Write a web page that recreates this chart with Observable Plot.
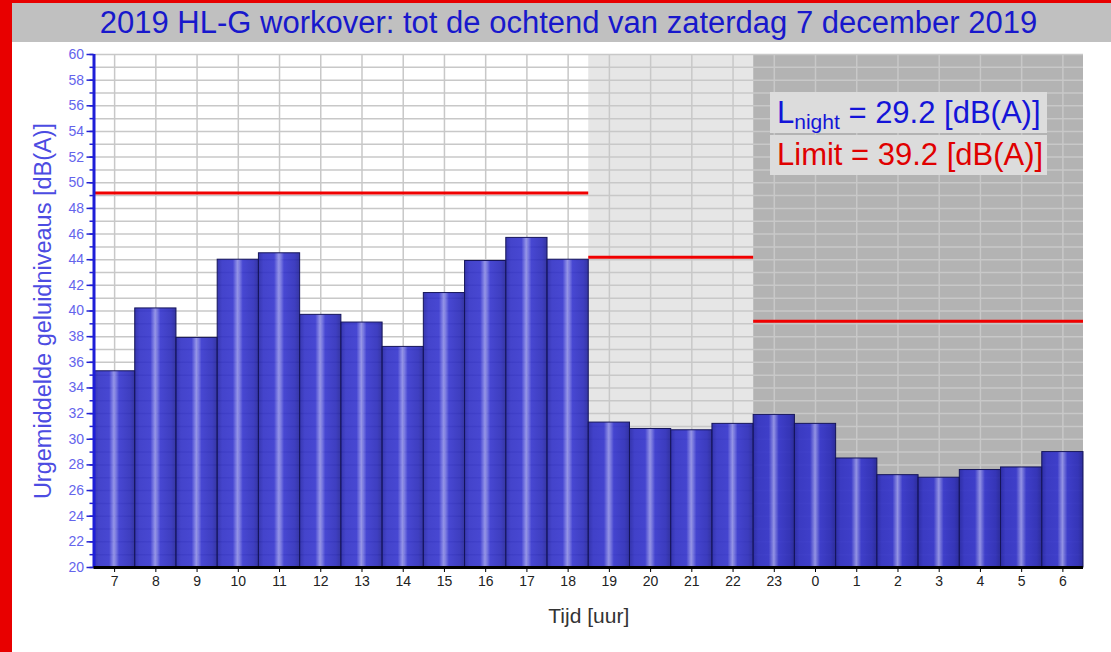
<!DOCTYPE html>
<html>
<head>
<meta charset="utf-8">
<script src="https://cdn.jsdelivr.net/npm/d3@7"></script>
<script src="https://cdn.jsdelivr.net/npm/@observablehq/plot@0.6"></script>
<style>
  html, body { margin: 0; padding: 0; background: #fff; }
  #wrap { position: relative; width: 1111px; height: 652px; overflow: hidden; font-family: "Liberation Sans", Arial, sans-serif; }
  #chart { position: absolute; left: 0; top: 0; }
  .redL { position: absolute; left: 0; top: 0; width: 12px; height: 652px; background: #e80000; z-index: 3; }
  .redT { position: absolute; left: 0; top: 0; width: 1111px; height: 3px; background: #e80000; z-index: 3; }
  #title { position: absolute; left: 12px; top: 3px; width: 1099px; height: 39px; background: #c0c0c0; color: #1818cc;
           font-size: 31px; line-height: 39px; text-align: center; z-index: 2; text-indent: 14px; white-space: nowrap; }
  .leg { position: absolute; left: 770px; width: 277px; background: #dcdcdc; font-size: 31px; white-space: nowrap; z-index: 2; padding-left: 7px; box-sizing: border-box; }
  #leg1 { top: 92px; height: 41px; line-height: 41px; color: #1414d8; }
  #leg2 { top: 135px; height: 40px; line-height: 40px; color: #e00000; }
  #leg1 sub { font-size: 21px; vertical-align: -6px; line-height: 0; }
</style>
</head>
<body>
<div id="wrap">
  <div id="chart"></div>
  <div class="redL"></div>
  <div class="redT"></div>
  <div id="title"></div>
  <div class="leg" id="leg1"></div>
  <div class="leg" id="leg2"></div>
</div>
<script>
const titleText = "2019 HL-G workover: tot de ochtend van zaterdag 7 december 2019";
const yTitle = "Urgemiddelde geluidniveaus [dB(A)]";
const xTitle = "Tijd [uur]";

const hours = ["7","8","9","10","11","12","13","14","15","16","17","18",
               "19","20","21","22","23","0","1","2","3","4","5","6"];
const levels = [35.3, 40.2, 37.9, 44.0, 44.5, 39.7, 39.1, 37.2, 41.4, 43.9, 45.7, 44.0,
                31.3, 30.8, 30.7, 31.2, 31.9, 31.2, 28.5, 27.2, 27.0, 27.6, 27.8, 29.0];

const periodNames = ["dag", "avond", "nacht"];
const periodStart = ["7", "19", "23"];
const periodLimits = [49.2, 44.2, 39.2];

const lNight = 29.2;
const limitValue = 39.2;

const yMajorTicks = [20, 22, 24, 26, 28, 30, 32, 34, 36, 38, 40, 42, 44, 46, 48, 50, 52, 54, 56, 58, 60];
const yMinorTicks = d3.range(20, 61, 1);

document.getElementById("title").textContent = titleText;
document.getElementById("leg1").innerHTML = "L<sub>night</sub> = " + lNight.toFixed(1) + " [dB(A)]";
document.getElementById("leg2").textContent = "Limit = " + limitValue.toFixed(1) + " [dB(A)]";

const data = hours.map((h, i) => ({hour: h, i, level: levels[i]}));
const periods = periodNames.map((name, k) => ({
  name,
  x1: hours.indexOf(periodStart[k]),
  x2: k < periodNames.length - 1 ? hours.indexOf(periodStart[k + 1]) : hours.length,
  limit: periodLimits[k]
}));
const bgFill = {avond: "#e6e6e6", nacht: "#b3b3b3"};
const centers = hours.map((h, i) => i + 0.5);

const plot = Plot.plot({
  width: 1111,
  height: 652,
  marginLeft: 93.5,
  marginRight: 28,
  marginTop: 54,
  marginBottom: 85,
  style: {fontFamily: "'Liberation Sans', Arial, sans-serif", background: "transparent"},
  x: {type: "linear", domain: [0, hours.length]},
  y: {domain: [20, 60]},
  marks: [
    Plot.rect(periods.filter(d => d.name !== "dag"), {
      x1: "x1", x2: "x2", y1: () => 20, y2: () => 60,
      fill: d => bgFill[d.name]
    }),
    Plot.gridY(yMinorTicks, {stroke: "#c8c8c8", strokeOpacity: 1, strokeWidth: 1.5}),
    Plot.gridX(centers, {stroke: "#c8c8c8", strokeOpacity: 1, strokeWidth: 1.5}),
    Plot.rectY(data, {
      x1: "i", x2: d => d.i + 1, y1: () => 20, y2: "level",
      fill: "url(#barGrad)", fillOpacity: 0.88,
      stroke: "#15155a", strokeWidth: 1
    }),
    Plot.ruleY(periods, {x1: "x1", x2: "x2", y: "limit", stroke: "#f00000", strokeWidth: 3}),
    Plot.axisY(yMinorTicks, {tickSize: 4, tickFormat: () => "", stroke: "#2020d0", strokeWidth: 1.5, label: null}),
    Plot.axisY(yMajorTicks, {tickSize: 7, tickPadding: 3, fill: "#6464ec", stroke: "#2020d0", strokeWidth: 1.5,
      fontSize: 14, label: null}),
    Plot.ruleX([0], {y1: () => 20, y2: () => 60, stroke: "#1e1ed8", strokeWidth: 3}),
    Plot.axisX(centers, {tickFormat: d => hours[Math.floor(d)], tickSize: 5, tickPadding: 4,
      fill: "#222", stroke: "#000", fontSize: 14, label: null}),
    Plot.ruleY([20], {stroke: "#000", strokeWidth: 3}),
    Plot.text([yTitle], {frameAnchor: "left", textAnchor: "middle", rotate: -90, dx: -51, fill: "#4c4ce2", fontSize: 23.5, text: d => d}),
    Plot.text([xTitle], {frameAnchor: "bottom", dy: 55, fill: "#333", fontSize: 21, text: d => d})
  ]
});

const defs = d3.select(plot).insert("defs", ":first-child");
const grad = defs.append("linearGradient").attr("id", "barGrad").attr("x1", "0").attr("x2", "1").attr("y1", "0").attr("y2", "0");
[["0%", "#1c1ca4"], ["12%", "#2a2ac4"], ["38%", "#2e2ecc"], ["50%", "#8c8ce8"], ["62%", "#2e2ecc"], ["88%", "#2424b8"], ["100%", "#1a1a96"]]
  .forEach(([o, c]) => grad.append("stop").attr("offset", o).attr("stop-color", c));

document.getElementById("chart").appendChild(plot);
</script>
</body>
</html>
